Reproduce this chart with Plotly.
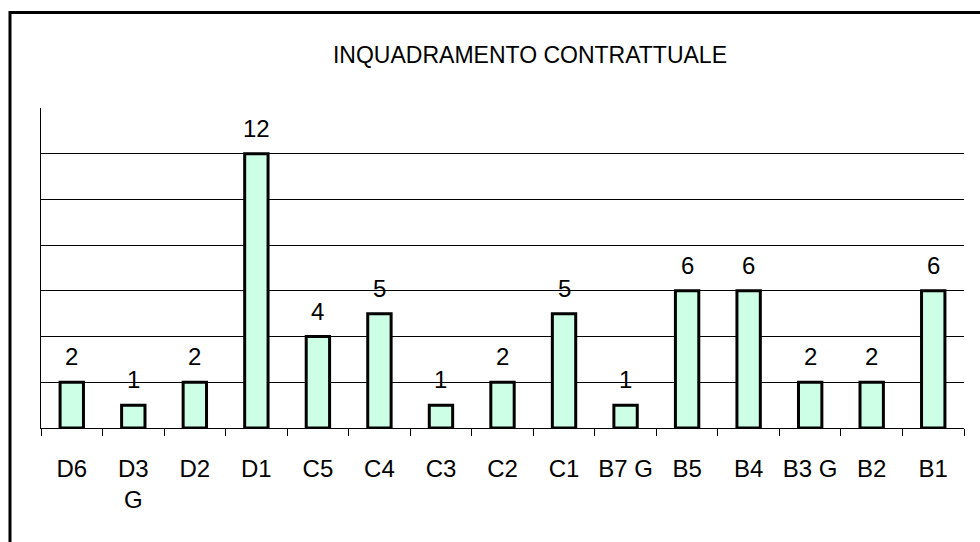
import plotly.graph_objects as go

# -- INQUADRAMENTO CONTRATTUALE --
categorie = ["D6", "D3<br>G", "D2", "D1", "C5", "C4", "C3", "C2", "C1",
             "B7 G", "B5", "B4", "B3 G", "B2", "B1"]
valori = [2, 1, 2, 12, 4, 5, 1, 2, 5, 1, 6, 6, 2, 2, 6]
griglia_y = [0, 2, 4, 6, 8, 10, 12, 14]

FONT = "Liberation Sans, Arial, sans-serif"

fig = go.Figure()
fig.add_trace(go.Bar(
    x=categorie,
    y=valori,
    width=0.38,
    marker=dict(color="#CCFFE6", line=dict(color="black", width=3)),
    showlegend=False,
    hoverinfo="x+y",
))

# etichette dei valori sopra le barre
for c, v in zip(categorie, valori):
    fig.add_annotation(
        x=c, y=v, text=str(v), showarrow=False,
        yanchor="bottom", yshift=10,
        font=dict(family=FONT, size=24, color="black"),
    )

# cornice esterna (bordo superiore e sinistro)
fig.add_shape(
    type="path", xref="paper", yref="paper",
    path="M -0.0336,-0.36 L -0.0336,1.2984 L 1.02,1.2984",
    line=dict(color="black", width=3),
)

fig.update_layout(
    title=dict(
        text="INQUADRAMENTO CONTRATTUALE",
        x=0.5298, xref="paper", xanchor="center",
        y=0.8985, yref="container", yanchor="middle",
        font=dict(family=FONT, size=23, color="black"),
    ),
    width=980, height=542,
    margin=dict(l=41, r=16, t=108, b=114),
    plot_bgcolor="white",
    paper_bgcolor="white",
    bargap=0.6,
    xaxis=dict(
        type="category",
        automargin=False,
        tickangle=0,
        showline=True, linecolor="black", linewidth=1,
        ticks="outside", tickson="boundaries", ticklen=7,
        tickcolor="black", tickwidth=1,
        showgrid=False,
        tickfont=dict(family=FONT, size=24, color="black"),
        ticklabelstandoff=19,
    ),
    yaxis=dict(
        automargin=False,
        range=[0, 14],
        tickvals=griglia_y,
        showticklabels=False,
        showgrid=True, gridcolor="black", gridwidth=1,
        showline=True, linecolor="black", linewidth=1,
        zeroline=False, ticks="",
    ),
)

# niente margine della pagina, così il grafico parte da (0, 0)
fig.write_html(
    "out.html",
    config={"displayModeBar": False},
    post_script="document.body.style.margin='0';",
)
